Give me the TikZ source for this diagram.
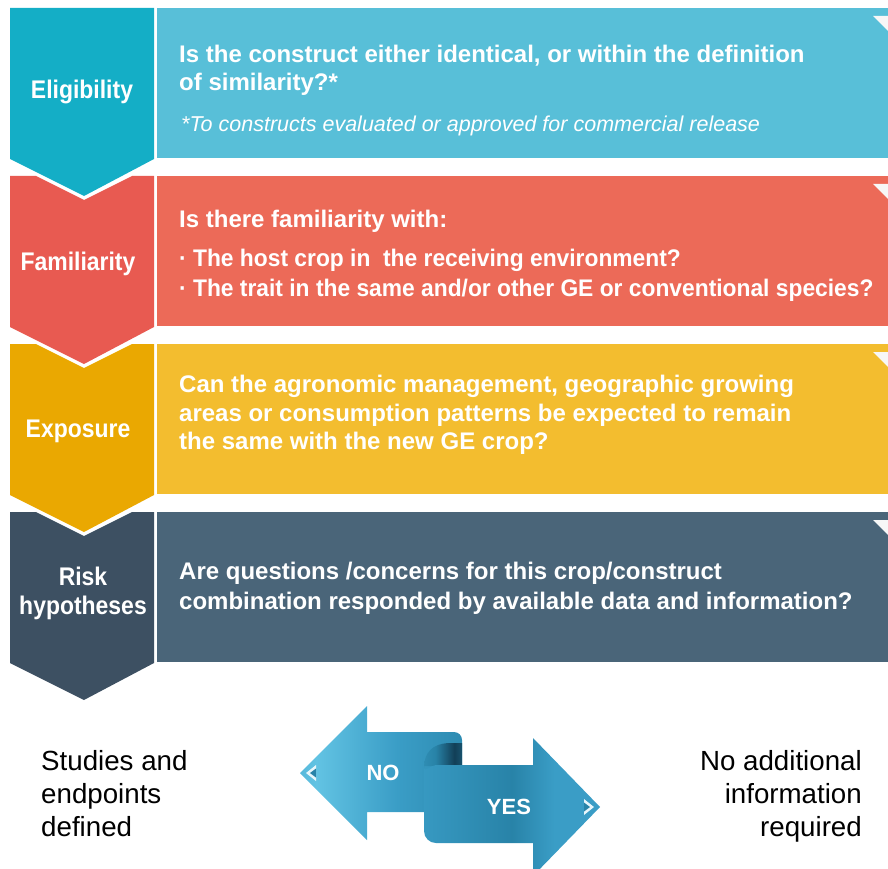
\documentclass[tikz,border=0pt]{standalone}
\usepackage{fontspec}
\setmainfont{Liberation Sans}
\newfontfamily\condfont[FakeStretch=0.9]{Liberation Sans}
\newfontfamily\narrowfont[FakeStretch=0.95]{Liberation Sans}
\definecolor{tealA}{HTML}{14AEC6}
\definecolor{tealB}{HTML}{58BFD8}
\definecolor{redA}{HTML}{E85A51}
\definecolor{redB}{HTML}{EC6A58}
\definecolor{yelA}{HTML}{EAA801}
\definecolor{yelB}{HTML}{F3BD2F}
\definecolor{navA}{HTML}{3D5062}
\definecolor{navB}{HTML}{4A6579}
\definecolor{arrL}{HTML}{62C3E3}
\definecolor{arrM}{HTML}{3A9DC6}
\definecolor{arrD}{HTML}{2883A8}
\definecolor{arrX}{HTML}{123F57}
\pgfdeclarehorizontalshading{leftarr}{100bp}{color(0bp)=(arrD); color(12bp)=(arrM); color(30bp)=(arrL); color(55bp)=(arrM); color(85bp)=(arrD); color(100bp)=(arrM)}
\pgfdeclarehorizontalshading{rightarr}{100bp}{color(0bp)=(arrM); color(8bp)=(arrL); color(20bp)=(arrM); color(50bp)=(arrD); color(62bp)=(arrM); color(90bp)=(arrM); color(100bp)=(arrD)}
\pgfdeclarehorizontalshading{curl}{100bp}{color(0bp)=(arrM); color(40bp)=(arrD); color(65bp)=(arrX); color(100bp)=(arrD)}
\tikzset{
  lbl/.style={font=\condfont\bfseries\fontsize{25.5}{30}\selectfont, text=white, align=center, inner sep=0pt},
  qtxt/.style={font=\bfseries\fontsize{24}{28}\selectfont, text=white, anchor=base west, inner sep=0pt},
  qnarrow/.style={font=\narrowfont\bfseries\fontsize{24}{28}\selectfont, text=white, anchor=base west, inner sep=0pt},
  note/.style={font=\itshape\fontsize{21.5}{24}\selectfont, text=white, anchor=base west, inner sep=0pt},
  foot/.style={font=\fontsize{27.7}{33}\selectfont, text=black, inner sep=0pt},
  corner/.style={fill=white!97!black},
  arrtxt/.style={font=\bfseries\fontsize{22}{24}\selectfont, text=white, inner sep=0pt}
}
\begin{document}
\begin{tikzpicture}[x=1pt,y=-1pt]
\useasboundingbox (0,0) rectangle (888,869);
% ---- row 1: Eligibility
\fill[tealA] (10,8) -- (154,8) -- (154,159) -- (84,196) -- (10,159) -- cycle;
\fill[tealB] (157,8) rectangle (888,158);
\fill[corner] (873,16) -- (888,16) -- (888,31) -- cycle;
\node[lbl] (elig) at (82,92) {Eligibility};
\node[qtxt] (q1a) at (179,63) {Is the construct either identical, or within the definition};
\node[qtxt] (q1b) at (179,91) {of similarity?*};
\node[note] (n1) at (181,132) {*To constructs evaluated or approved for commercial release};
% ---- row 2: Familiarity
\fill[redA] (10,176) -- (36,176) -- (84,200) -- (132,176) -- (154,176) -- (154,327) -- (84,364) -- (10,327) -- cycle;
\fill[redB] (157,176) rectangle (888,326);
\fill[corner] (873,184) -- (888,184) -- (888,199) -- cycle;
\node[lbl] (fam) at (78,264) {Familiarity};
\node[qtxt] (q2a) at (179,227) {Is there familiarity with:};
\node[qnarrow] (q2b) at (179,266) {· The host crop in\ \ the receiving environment?};
\node[qnarrow] (q2c) at (179,296) {· The trait in the same and/or other GE or conventional species?};
% ---- row 3: Exposure
\fill[yelA] (10,344) -- (36,344) -- (84,368) -- (132,344) -- (154,344) -- (154,495) -- (84,532) -- (10,495) -- cycle;
\fill[yelB] (157,344) rectangle (888,494);
\fill[corner] (873,352) -- (888,352) -- (888,367) -- cycle;
\node[lbl] (expo) at (78,431) {Exposure};
\node[qtxt] (q3a) at (179,392) {Can the agronomic management, geographic growing};
\node[qtxt] (q3b) at (179,421) {areas or consumption patterns be expected to remain};
\node[qtxt] (q3c) at (179,449) {the same with the new GE crop?};
% ---- row 4: Risk hypotheses
\fill[navA] (10,512) -- (36,512) -- (84,536) -- (132,512) -- (154,512) -- (154,663) -- (84,700) -- (10,663) -- cycle;
\fill[navB] (157,512) rectangle (888,662);
\fill[corner] (873,520) -- (888,520) -- (888,535) -- cycle;
\node[lbl] (risk) at (83,593) {Risk\\[-1pt]hypotheses};
\node[qtxt] (q4a) at (179,579) {Are questions /concerns for this crop/construct};
\node[qtxt] (q4b) at (179,609) {combination responded by available data and information?};
% ---- footer texts
\node[foot, anchor=north west, align=left] (studies) at (41,750) {Studies and\\endpoints\\defined};
\node[foot, anchor=north east, align=right] (noadd) at (862,750) {No additional\\information\\required};
% ---- NO / YES arrow
\shade[shading=leftarr] (300,773) -- (367,706) -- (367,732) -- (454,732) to[out=0,in=90] (462,740) -- (462,812) -- (367,812) -- (367,840) -- cycle;
\shade[shading=curl] (424,768) .. controls (424,752) and (433,744) .. (448,743) -- (462,743) -- (462,766) -- (424,766) -- cycle;
\shade[shading=rightarr] (424,768) to[out=-90,in=180] (436,765) -- (533,765) -- (533,738) -- (600,807) -- (533,876) -- (533,843) -- (436,843) to[out=180,in=-90] (424,831) -- cycle;
\fill[white!85!arrL] (306,773) -- (316,765) -- (316,781) -- cycle;
\fill[arrD] (310,773) -- (316,768.5) -- (316,777.5) -- cycle;
\fill[white!85!arrL] (594,807) -- (584,799) -- (584,815) -- cycle;
\fill[arrD] (590,807) -- (584,802.5) -- (584,811.5) -- cycle;
\node[arrtxt] (no) at (383,773) {NO};
\node[arrtxt] (yes) at (509,807) {YES};
\end{tikzpicture}
\end{document}
